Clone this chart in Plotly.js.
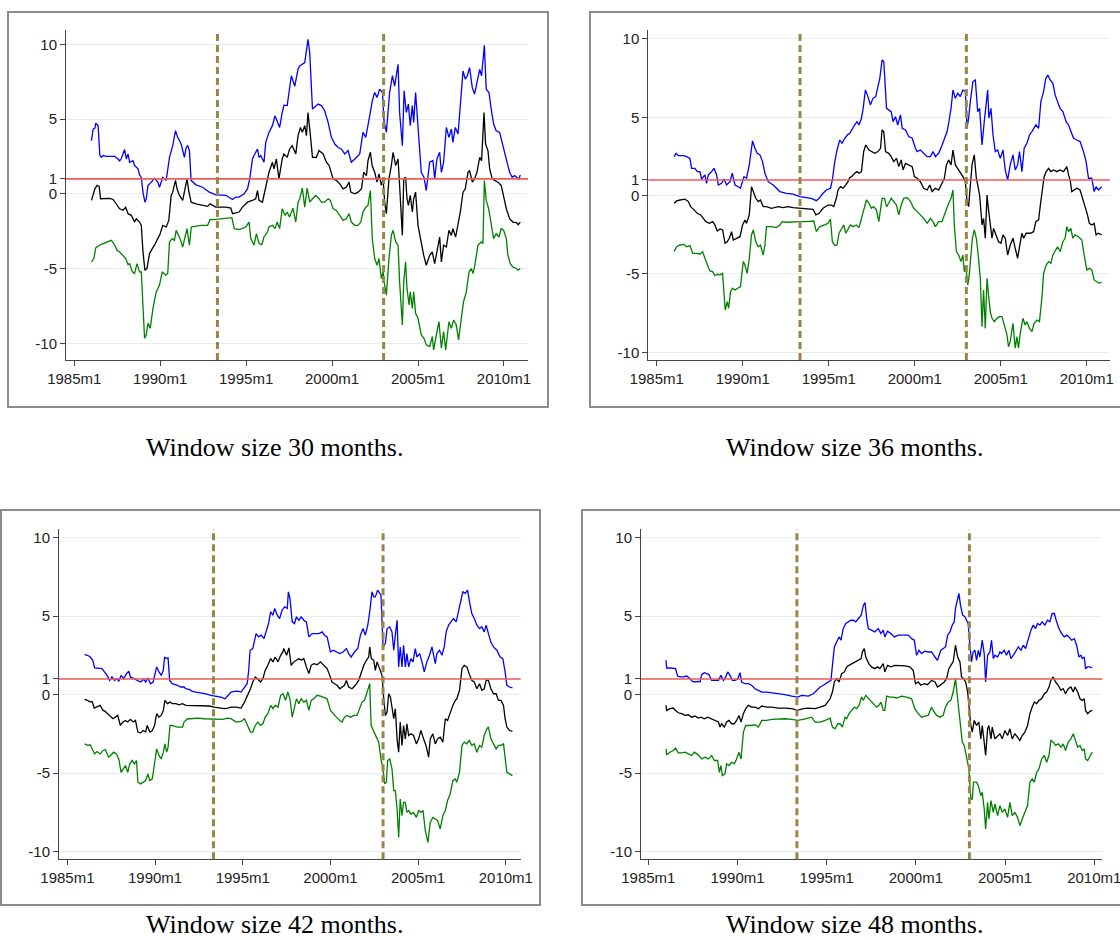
<!DOCTYPE html>
<html>
<head>
<meta charset="utf-8">
<script src="https://cdn.plot.ly/plotly-3.0.1.min.js"></script>
<style>html,body{margin:0;padding:0;background:#fff}#chart{width:1120px;height:940px}</style>
</head>
<body>
<div id="chart"></div>
<script>
// ---- tick labels ----
const xTickVals = [1985, 1990, 1995, 2000, 2005, 2010];
const xTickText = ["1985m1", "1990m1", "1995m1", "2000m1", "2005m1", "2010m1"];
const yTickVals = [-10, -5, 0, 1, 5, 10];
const yTickText = ["-10", "-5", "0", "1", "5", "10"];
const breakDates = [1993.33, 2003.0];
const refLevel = 1;
const captions = ["Window size 30 months.", "Window size 36 months.", "Window size 42 months.", "Window size 48 months."];

// ---- data: [date (decimal year), value] ----
const w30_upper = [[1986.00,3.56],[1986.10,4.33],[1986.20,4.40],[1986.25,4.73],[1986.39,4.55],[1986.49,2.56],[1986.58,2.44],[1986.68,2.56],[1986.87,2.5],[1987.36,2.5],[1987.55,2.33],[1987.64,2.2],[1987.74,2.36],[1987.93,2.96],[1988.03,2.33],[1988.13,2.67],[1988.22,2.11],[1988.42,2.22],[1988.51,1.89],[1988.71,1.67],[1988.80,1.27],[1988.90,1.1],[1989.00,0.1],[1989.11,-0.56],[1989.19,-0.33],[1989.29,0.56],[1989.48,0.78],[1989.67,1.04],[1989.86,0.78],[1989.96,0.44],[1990.15,1.1],[1990.35,0.9],[1990.54,2.44],[1990.73,3.22],[1990.89,4.22],[1991.02,3.78],[1991.22,3.33],[1991.41,2.44],[1991.51,3.1],[1991.60,3.22],[1991.70,2.9],[1991.80,0.9],[1992.08,0.6],[1992.47,0.44],[1992.86,0.11],[1993.24,-0.07],[1993.82,-0.1],[1994.21,-0.38],[1994.40,-0.22],[1994.59,-0.22],[1994.88,0.0],[1995.08,0.33],[1995.21,1.0],[1995.37,2.33],[1995.46,2.56],[1995.66,3.0],[1995.75,2.44],[1995.85,2.56],[1996.04,2.11],[1996.14,3.44],[1996.33,4.11],[1996.53,4.56],[1996.68,5.22],[1996.81,4.78],[1996.95,4.44],[1997.10,5.44],[1997.20,5.93],[1997.39,5.9],[1997.49,6.78],[1997.63,7.9],[1997.83,7.2],[1998.02,8.33],[1998.12,8.56],[1998.41,8.78],[1998.60,10.33],[1998.70,9.44],[1998.86,5.67],[1998.99,5.78],[1999.19,6.0],[1999.38,5.9],[1999.57,5.56],[1999.77,4.78],[1999.96,3.78],[2000.16,3.33],[2000.35,3.1],[2000.54,3.0],[2000.74,2.67],[2000.93,2.89],[2001.12,2.11],[2001.32,2.33],[2001.61,2.67],[2001.80,4.11],[2001.96,3.78],[2002.19,5.22],[2002.34,6.22],[2002.48,6.78],[2002.62,6.44],[2002.77,7.0],[2002.93,6.78],[2003.02,4.9],[2003.16,4.11],[2003.35,6.78],[2003.51,7.9],[2003.64,7.2],[2003.84,8.67],[2003.93,5.44],[2004.09,3.22],[2004.19,6.89],[2004.32,5.44],[2004.44,6.0],[2004.55,4.56],[2004.67,5.9],[2004.75,4.78],[2004.86,6.78],[2005.00,4.33],[2005.19,1.44],[2005.35,1.1],[2005.48,0.22],[2005.68,2.11],[2005.87,2.22],[2005.97,1.0],[2006.10,2.33],[2006.26,2.78],[2006.36,1.44],[2006.49,2.11],[2006.65,4.44],[2006.80,3.78],[2006.94,4.33],[2007.03,3.44],[2007.17,4.44],[2007.33,4.0],[2007.46,5.67],[2007.62,8.22],[2007.75,7.67],[2007.87,7.9],[2008.00,8.44],[2008.16,7.1],[2008.29,6.67],[2008.43,7.44],[2008.59,8.33],[2008.70,7.9],[2008.86,9.93],[2008.97,7.0],[2009.13,6.78],[2009.26,5.67],[2009.40,4.67],[2009.55,4.22],[2009.75,4.11],[2009.94,3.22],[2010.14,2.33],[2010.33,1.44],[2010.48,1.1],[2010.62,1.22],[2010.76,1.1],[2010.87,0.96],[2010.95,1.27]];
const w30_mid = [[1986.00,-0.44],[1986.10,-0.11],[1986.20,0.33],[1986.33,0.56],[1986.45,0.5],[1986.53,-0.33],[1986.78,-0.33],[1987.07,-0.3],[1987.26,-0.38],[1987.45,-0.67],[1987.64,-1.0],[1987.84,-1.1],[1987.99,-0.9],[1988.13,-1.33],[1988.32,-1.44],[1988.51,-1.89],[1988.61,-1.67],[1988.80,-1.89],[1988.90,-2.11],[1989.00,-3.89],[1989.11,-5.11],[1989.23,-5.0],[1989.38,-4.0],[1989.54,-3.67],[1989.67,-3.44],[1989.86,-3.0],[1990.00,-2.67],[1990.15,-2.11],[1990.35,-2.22],[1990.50,-1.78],[1990.64,-0.11],[1990.73,0.11],[1990.89,0.9],[1990.98,0.33],[1991.12,-0.11],[1991.31,-0.44],[1991.45,0.33],[1991.56,1.0],[1991.66,0.22],[1991.80,-0.56],[1992.08,-0.67],[1992.47,-0.78],[1992.76,-0.84],[1992.90,-0.67],[1993.24,-0.89],[1993.82,-0.89],[1994.11,-0.96],[1994.21,-1.33],[1994.59,-1.22],[1994.79,-0.89],[1995.08,-0.56],[1995.37,-0.44],[1995.56,-0.33],[1995.66,0.22],[1995.75,-0.44],[1995.95,-0.56],[1996.10,0.33],[1996.24,1.0],[1996.33,1.44],[1996.53,2.11],[1996.62,1.67],[1996.76,2.33],[1996.91,1.0],[1997.10,2.33],[1997.20,2.67],[1997.39,2.44],[1997.53,3.0],[1997.68,3.22],[1997.89,2.67],[1998.02,3.89],[1998.16,4.44],[1998.27,4.11],[1998.41,4.56],[1998.51,3.89],[1998.60,5.44],[1998.74,3.89],[1998.86,2.44],[1999.09,2.44],[1999.24,2.89],[1999.48,2.67],[1999.67,2.11],[1999.83,1.89],[1999.96,1.44],[2000.06,1.0],[2000.25,0.9],[2000.45,0.67],[2000.64,0.33],[2000.83,0.44],[2000.99,0.78],[2001.09,0.11],[2001.32,0.0],[2001.51,0.11],[2001.71,0.33],[2001.84,1.44],[2002.00,1.22],[2002.09,2.22],[2002.23,2.78],[2002.33,1.89],[2002.48,1.44],[2002.62,0.78],[2002.73,1.33],[2002.87,0.56],[2002.97,1.0],[2003.06,-0.56],[2003.16,-1.33],[2003.31,1.0],[2003.45,1.89],[2003.55,2.78],[2003.70,1.89],[2003.84,2.33],[2003.93,0.56],[2004.09,-2.78],[2004.17,1.0],[2004.28,1.11],[2004.36,-0.33],[2004.44,-0.78],[2004.55,-0.11],[2004.67,-1.22],[2004.75,-0.33],[2004.86,0.11],[2005.00,-2.11],[2005.19,-3.44],[2005.33,-4.11],[2005.48,-4.78],[2005.68,-4.11],[2005.83,-3.89],[2005.97,-4.67],[2006.10,-3.89],[2006.26,-2.89],[2006.36,-4.56],[2006.49,-3.44],[2006.65,-3.56],[2006.80,-2.44],[2006.94,-2.78],[2007.03,-2.33],[2007.19,-2.89],[2007.33,-2.11],[2007.46,-1.22],[2007.62,0.11],[2007.75,0.33],[2007.91,1.44],[2008.00,1.56],[2008.16,0.78],[2008.29,1.0],[2008.43,1.44],[2008.59,2.44],[2008.70,2.22],[2008.84,5.44],[2008.93,3.33],[2009.07,2.89],[2009.17,1.67],[2009.32,1.0],[2009.46,0.9],[2009.65,0.78],[2009.84,0.56],[2009.98,-0.11],[2010.14,-1.0],[2010.33,-1.67],[2010.52,-1.89],[2010.72,-1.93],[2010.83,-2.07],[2010.95,-1.89]];
const w30_lower = [[1986.00,-4.56],[1986.14,-4.33],[1986.25,-3.62],[1986.45,-3.44],[1986.68,-3.33],[1986.97,-3.18],[1987.16,-3.11],[1987.36,-3.44],[1987.49,-3.78],[1987.64,-3.89],[1987.84,-4.11],[1987.99,-4.33],[1988.13,-4.73],[1988.22,-4.67],[1988.38,-5.22],[1988.51,-5.33],[1988.65,-4.67],[1988.80,-5.22],[1988.90,-5.22],[1989.00,-7.67],[1989.09,-9.67],[1989.19,-9.44],[1989.29,-8.67],[1989.42,-9.0],[1989.58,-7.67],[1989.77,-6.56],[1989.96,-6.11],[1990.12,-5.22],[1990.31,-5.44],[1990.44,-5.33],[1990.54,-3.22],[1990.70,-3.0],[1990.83,-3.11],[1990.93,-2.44],[1991.02,-2.67],[1991.16,-3.0],[1991.31,-3.56],[1991.45,-2.78],[1991.56,-2.33],[1991.70,-3.44],[1991.81,-2.22],[1992.08,-2.16],[1992.37,-2.11],[1992.76,-2.11],[1992.90,-1.73],[1993.24,-1.71],[1993.82,-1.67],[1994.17,-1.6],[1994.31,-2.33],[1994.59,-2.4],[1994.98,-2.22],[1995.17,-1.89],[1995.27,-3.0],[1995.46,-3.44],[1995.60,-2.67],[1995.75,-3.33],[1995.91,-3.4],[1996.04,-2.89],[1996.24,-2.56],[1996.33,-2.22],[1996.53,-2.11],[1996.68,-2.33],[1996.81,-1.89],[1996.95,-2.33],[1997.10,-1.0],[1997.26,-1.44],[1997.39,-1.22],[1997.53,-1.56],[1997.72,-0.96],[1997.89,-1.89],[1998.02,-0.56],[1998.12,-0.33],[1998.27,0.38],[1998.41,-0.89],[1998.55,0.38],[1998.70,-0.56],[1998.86,-0.33],[1999.05,-0.11],[1999.24,-0.33],[1999.38,-0.56],[1999.57,-0.56],[1999.77,-0.33],[1999.90,-0.44],[2000.06,-1.0],[2000.25,-1.11],[2000.45,-1.44],[2000.64,-1.78],[2000.83,-1.67],[2000.99,-1.33],[2001.12,-1.89],[2001.32,-2.11],[2001.51,-2.11],[2001.67,-1.89],[2001.80,-1.22],[2001.96,-0.89],[2002.09,-0.78],[2002.23,0.22],[2002.34,-3.0],[2002.48,-4.33],[2002.62,-4.78],[2002.73,-4.33],[2002.87,-5.67],[2002.97,-5.22],[2003.06,-6.11],[2003.16,-6.78],[2003.31,-4.33],[2003.45,-2.78],[2003.55,-2.44],[2003.70,-3.22],[2003.84,-3.44],[2003.93,-5.89],[2004.09,-8.78],[2004.17,-5.89],[2004.28,-4.56],[2004.36,-6.33],[2004.48,-7.44],[2004.55,-6.56],[2004.67,-7.67],[2004.75,-6.56],[2004.86,-8.0],[2005.00,-8.33],[2005.19,-9.44],[2005.35,-9.67],[2005.48,-10.11],[2005.68,-10.22],[2005.83,-9.56],[2005.91,-10.44],[2006.07,-9.44],[2006.22,-8.56],[2006.36,-10.33],[2006.49,-9.22],[2006.61,-10.44],[2006.80,-8.56],[2006.94,-9.0],[2007.07,-8.44],[2007.23,-8.78],[2007.36,-9.78],[2007.52,-8.33],[2007.65,-7.22],[2007.81,-6.56],[2007.97,-5.22],[2008.10,-5.0],[2008.20,-5.33],[2008.29,-4.89],[2008.49,-3.44],[2008.68,-3.22],[2008.78,-3.33],[2008.86,0.89],[2008.97,-0.44],[2009.11,-1.0],[2009.26,-2.11],[2009.40,-3.0],[2009.55,-2.67],[2009.71,-2.89],[2009.84,-2.33],[2009.98,-2.44],[2010.14,-3.0],[2010.23,-4.11],[2010.37,-4.67],[2010.52,-4.89],[2010.72,-5.0],[2010.83,-5.11],[2010.95,-5.0]];

const w36_upper = [[1986.01,2.49],[1986.12,2.7],[1986.26,2.55],[1986.55,2.55],[1986.74,2.49],[1986.93,2.38],[1987.03,1.74],[1987.22,1.74],[1987.36,1.53],[1987.51,1.53],[1987.61,1.06],[1987.80,1.32],[1987.90,0.79],[1988.00,1.32],[1988.19,1.53],[1988.33,1.74],[1988.48,1.32],[1988.58,0.68],[1988.77,0.79],[1988.91,1.06],[1989.06,0.68],[1989.26,0.89],[1989.39,1.43],[1989.55,0.68],[1989.74,0.57],[1989.87,0.47],[1990.07,1.21],[1990.22,1.11],[1990.38,1.96],[1990.51,2.81],[1990.57,3.49],[1990.71,3.02],[1990.84,2.7],[1991.00,2.6],[1991.15,2.17],[1991.29,1.43],[1991.48,0.89],[1991.77,0.68],[1991.96,0.47],[1992.16,0.26],[1992.54,0.15],[1992.93,0.09],[1993.32,-0.06],[1993.70,-0.13],[1993.99,-0.17],[1994.28,-0.32],[1994.44,-0.17],[1994.67,0.15],[1994.86,0.36],[1995.10,0.47],[1995.21,1.0],[1995.35,2.17],[1995.48,2.91],[1995.64,3.55],[1995.77,3.34],[1995.93,3.66],[1996.08,3.87],[1996.22,3.98],[1996.37,4.3],[1996.51,4.51],[1996.64,4.72],[1996.76,4.51],[1996.90,4.94],[1996.99,5.47],[1997.13,6.74],[1997.28,6.32],[1997.42,5.79],[1997.57,6.21],[1997.73,6.32],[1997.97,7.49],[1998.10,8.66],[1998.20,8.55],[1998.36,5.57],[1998.49,5.47],[1998.63,5.36],[1998.74,4.72],[1998.88,5.04],[1999.01,4.51],[1999.17,5.15],[1999.27,4.3],[1999.46,4.19],[1999.65,3.77],[1999.85,3.66],[2000.04,3.02],[2000.14,2.81],[2000.33,2.91],[2000.52,2.7],[2000.72,2.49],[2000.91,2.49],[2001.06,2.81],[2001.20,2.49],[2001.39,2.7],[2001.59,3.23],[2001.72,3.66],[2001.88,4.09],[2001.97,4.62],[2002.11,5.57],[2002.22,6.74],[2002.36,6.21],[2002.50,6.53],[2002.65,6.32],[2002.80,6.74],[2002.94,6.64],[2003.04,4.3],[2003.13,4.94],[2003.23,6.0],[2003.38,7.28],[2003.52,7.38],[2003.66,5.36],[2003.77,5.57],[2003.91,3.23],[2004.04,4.72],[2004.16,5.79],[2004.24,6.74],[2004.31,4.94],[2004.43,5.57],[2004.55,3.87],[2004.68,2.81],[2004.82,2.91],[2004.97,2.38],[2005.13,2.91],[2005.26,1.64],[2005.40,1.0],[2005.55,1.96],[2005.71,2.6],[2005.84,1.64],[2005.98,1.96],[2006.09,2.81],[2006.23,1.53],[2006.36,3.02],[2006.52,3.34],[2006.67,3.87],[2006.81,4.09],[2006.91,4.3],[2007.04,4.51],[2007.20,4.3],[2007.33,6.0],[2007.49,6.64],[2007.62,7.49],[2007.74,7.7],[2007.87,7.38],[2008.03,7.17],[2008.16,6.43],[2008.30,6.0],[2008.45,5.57],[2008.61,5.36],[2008.80,4.72],[2008.94,4.51],[2009.07,4.09],[2009.23,3.66],[2009.42,3.55],[2009.61,3.45],[2009.81,2.81],[2009.96,2.17],[2010.10,1.11],[2010.29,1.11],[2010.43,0.26],[2010.54,0.57],[2010.68,0.36],[2010.87,0.57]];
const w36_mid = [[1986.01,-0.49],[1986.16,-0.34],[1986.35,-0.28],[1986.64,-0.23],[1986.84,-0.38],[1986.97,-0.7],[1987.17,-0.91],[1987.36,-1.13],[1987.55,-1.23],[1987.71,-1.45],[1987.86,-1.66],[1988.06,-1.77],[1988.25,-1.66],[1988.38,-1.87],[1988.52,-2.26],[1988.68,-2.13],[1988.83,-2.19],[1988.97,-3.04],[1989.10,-2.94],[1989.22,-2.72],[1989.35,-2.3],[1989.45,-2.83],[1989.64,-2.72],[1989.84,-2.62],[1989.99,-1.87],[1990.13,-1.55],[1990.22,-1.77],[1990.38,-1.23],[1990.51,0.57],[1990.61,0.26],[1990.76,-0.17],[1990.90,-0.38],[1991.03,-0.28],[1991.19,-0.7],[1991.38,-0.7],[1991.67,-0.81],[1992.06,-0.7],[1992.35,-0.77],[1992.64,-0.7],[1992.93,-0.77],[1993.32,-0.81],[1993.70,-0.81],[1994.09,-0.87],[1994.25,-1.23],[1994.44,-1.13],[1994.67,-0.81],[1994.96,-0.6],[1995.15,-0.6],[1995.29,-0.7],[1995.44,-0.17],[1995.54,0.36],[1995.68,0.57],[1995.83,0.47],[1995.99,0.68],[1996.12,0.89],[1996.22,1.15],[1996.32,1.21],[1996.51,1.43],[1996.64,1.53],[1996.76,1.43],[1996.90,1.53],[1997.03,2.81],[1997.15,3.23],[1997.34,2.91],[1997.48,2.81],[1997.67,2.7],[1997.86,2.81],[1998.01,3.02],[1998.10,4.19],[1998.20,4.09],[1998.30,2.81],[1998.49,2.7],[1998.63,2.49],[1998.78,2.17],[1998.94,2.38],[1999.07,1.85],[1999.21,2.28],[1999.32,1.64],[1999.46,2.06],[1999.65,1.96],[1999.85,1.85],[1999.98,1.21],[2000.14,1.11],[2000.33,0.89],[2000.52,0.47],[2000.72,0.36],[2000.87,0.68],[2001.01,0.26],[2001.20,0.47],[2001.39,0.36],[2001.59,0.79],[2001.72,1.11],[2001.84,1.96],[2001.97,2.28],[2002.11,1.96],[2002.22,2.91],[2002.36,1.96],[2002.50,1.74],[2002.65,1.43],[2002.80,1.21],[2002.94,0.89],[2003.04,-0.38],[2003.13,-0.7],[2003.23,0.68],[2003.33,1.96],[2003.46,2.6],[2003.58,1.11],[2003.66,0.68],[2003.77,0.04],[2003.91,-1.87],[2004.00,-1.45],[2004.10,-2.72],[2004.20,0.04],[2004.29,-0.91],[2004.39,-1.98],[2004.49,-2.72],[2004.58,-2.09],[2004.74,-2.51],[2004.87,-2.94],[2005.01,-3.04],[2005.13,-2.51],[2005.26,-2.72],[2005.40,-3.79],[2005.55,-3.15],[2005.71,-2.72],[2005.84,-3.36],[2005.98,-4.0],[2006.09,-3.26],[2006.23,-2.4],[2006.33,-2.72],[2006.48,-2.4],[2006.71,-2.4],[2006.91,-2.3],[2007.04,-1.66],[2007.20,-1.55],[2007.29,-0.7],[2007.39,0.15],[2007.52,1.21],[2007.64,1.53],[2007.78,1.74],[2007.91,1.53],[2008.07,1.64],[2008.26,1.53],[2008.45,1.64],[2008.65,1.53],[2008.84,1.85],[2008.94,1.32],[2009.03,1.0],[2009.13,0.26],[2009.26,0.36],[2009.42,0.47],[2009.61,0.36],[2009.77,-0.17],[2009.90,-0.7],[2010.04,-1.23],[2010.15,-1.77],[2010.29,-1.87],[2010.43,-1.77],[2010.54,-2.51],[2010.68,-2.4],[2010.87,-2.51]];
const w36_lower = [[1986.01,-3.57],[1986.16,-3.26],[1986.35,-3.15],[1986.59,-3.11],[1986.74,-3.26],[1986.93,-3.19],[1987.09,-3.68],[1987.32,-3.68],[1987.51,-3.74],[1987.67,-3.57],[1987.80,-4.0],[1987.94,-4.43],[1988.09,-4.81],[1988.25,-4.85],[1988.38,-5.11],[1988.52,-5.02],[1988.68,-5.06],[1988.83,-4.96],[1988.91,-6.13],[1988.98,-7.3],[1989.10,-6.77],[1989.18,-7.19],[1989.29,-6.13],[1989.41,-5.91],[1989.55,-6.02],[1989.74,-5.91],[1989.87,-5.81],[1990.03,-4.21],[1990.13,-4.43],[1990.26,-4.96],[1990.38,-4.0],[1990.51,-2.51],[1990.61,-2.19],[1990.76,-2.94],[1990.90,-3.26],[1991.03,-3.15],[1991.19,-3.79],[1991.29,-3.15],[1991.38,-1.98],[1991.67,-1.98],[1991.96,-2.04],[1992.16,-1.87],[1992.29,-1.66],[1992.54,-1.7],[1992.93,-1.66],[1993.32,-1.66],[1993.70,-1.66],[1994.13,-1.62],[1994.28,-2.3],[1994.48,-1.98],[1994.77,-1.87],[1994.96,-1.77],[1995.10,-1.49],[1995.21,-2.94],[1995.35,-3.19],[1995.48,-3.15],[1995.60,-2.4],[1995.74,-2.09],[1995.87,-1.87],[1995.99,-2.4],[1996.12,-2.09],[1996.26,-1.87],[1996.41,-1.98],[1996.61,-1.87],[1996.76,-2.04],[1996.90,-1.45],[1997.03,-0.91],[1997.19,-0.28],[1997.34,-0.49],[1997.48,-0.81],[1997.61,-0.7],[1997.77,-0.91],[1997.91,-1.66],[1998.01,-0.7],[1998.10,-0.17],[1998.24,-0.17],[1998.36,-0.7],[1998.49,-0.49],[1998.63,-0.17],[1998.78,-0.38],[1998.94,-0.6],[1999.07,-1.23],[1999.21,-0.6],[1999.36,-0.17],[1999.56,-0.13],[1999.75,-0.38],[1999.94,-0.81],[2000.14,-1.02],[2000.33,-1.23],[2000.52,-1.45],[2000.72,-1.77],[2000.91,-1.45],[2001.06,-1.66],[2001.20,-1.98],[2001.39,-1.66],[2001.59,-1.66],[2001.72,-1.23],[2001.88,-0.7],[2001.97,-0.49],[2002.11,-0.17],[2002.22,0.36],[2002.30,-1.87],[2002.42,-3.57],[2002.55,-3.79],[2002.69,-4.21],[2002.80,-3.79],[2002.88,-4.85],[2002.96,-4.43],[2003.08,-5.7],[2003.15,-5.28],[2003.23,-4.0],[2003.35,-2.72],[2003.46,-2.19],[2003.58,-2.72],[2003.69,-3.79],[2003.81,-5.28],[2003.91,-8.36],[2004.00,-6.02],[2004.10,-8.47],[2004.20,-5.28],[2004.29,-6.34],[2004.39,-7.4],[2004.49,-7.83],[2004.62,-8.04],[2004.78,-7.83],[2004.93,-7.72],[2005.07,-7.72],[2005.20,-8.26],[2005.36,-8.89],[2005.45,-9.64],[2005.55,-9.32],[2005.71,-8.15],[2005.84,-9.74],[2005.94,-9.0],[2006.03,-9.74],[2006.13,-8.79],[2006.29,-7.83],[2006.42,-8.26],[2006.52,-8.04],[2006.67,-8.47],[2006.81,-8.68],[2006.94,-8.15],[2007.10,-7.94],[2007.25,-8.04],[2007.39,-6.55],[2007.49,-4.96],[2007.64,-4.43],[2007.78,-4.21],[2007.91,-4.32],[2008.03,-3.79],[2008.16,-3.57],[2008.30,-3.26],[2008.45,-3.57],[2008.61,-2.94],[2008.74,-2.72],[2008.84,-1.98],[2008.94,-2.3],[2009.07,-2.09],[2009.19,-2.72],[2009.32,-2.51],[2009.52,-2.62],[2009.71,-2.83],[2009.85,-3.79],[2010.00,-4.74],[2010.15,-4.64],[2010.29,-4.74],[2010.43,-5.38],[2010.58,-5.49],[2010.73,-5.6],[2010.87,-5.53]];

const w42_upper = [[1985.98,2.55],[1986.15,2.51],[1986.30,2.4],[1986.45,2.19],[1986.55,1.7],[1986.78,1.7],[1986.97,1.66],[1987.10,1.47],[1987.26,1.23],[1987.41,0.91],[1987.54,1.13],[1987.68,0.91],[1987.83,1.02],[1987.93,0.85],[1988.06,1.23],[1988.21,1.02],[1988.37,1.34],[1988.50,1.49],[1988.59,1.13],[1988.79,1.02],[1988.98,0.91],[1989.17,0.81],[1989.36,0.98],[1989.46,0.81],[1989.59,1.06],[1989.74,0.7],[1989.89,0.81],[1989.97,1.13],[1990.09,1.77],[1990.22,1.45],[1990.35,1.23],[1990.47,1.55],[1990.54,2.4],[1990.64,2.3],[1990.74,2.34],[1990.83,0.91],[1990.98,0.7],[1991.27,0.6],[1991.46,0.49],[1991.65,0.49],[1991.75,0.38],[1991.94,0.34],[1992.13,0.21],[1992.32,0.17],[1992.61,0.13],[1992.90,0.06],[1993.18,-0.04],[1993.47,-0.09],[1993.76,-0.15],[1993.99,-0.26],[1994.14,-0.04],[1994.33,0.17],[1994.52,0.21],[1994.71,0.23],[1994.90,0.17],[1995.10,0.49],[1995.25,0.7],[1995.33,1.45],[1995.42,2.83],[1995.57,2.94],[1995.67,3.47],[1995.76,3.89],[1995.90,3.68],[1996.05,3.79],[1996.21,3.57],[1996.34,4.0],[1996.47,4.53],[1996.59,5.28],[1996.72,5.06],[1996.82,5.49],[1996.97,5.06],[1997.10,4.85],[1997.24,5.38],[1997.39,5.6],[1997.54,5.49],[1997.60,6.55],[1997.69,6.13],[1997.82,4.64],[1997.95,4.53],[1998.06,4.96],[1998.20,4.74],[1998.33,4.96],[1998.48,4.74],[1998.63,4.64],[1998.77,3.68],[1998.96,3.89],[1999.15,3.89],[1999.34,3.89],[1999.53,4.0],[1999.66,3.79],[1999.81,3.68],[2000.00,2.72],[2000.15,2.83],[2000.34,2.72],[2000.53,2.62],[2000.72,2.72],[2000.91,2.94],[2001.04,2.62],[2001.18,2.4],[2001.37,2.72],[2001.56,2.94],[2001.71,3.79],[2001.86,4.21],[2001.99,3.79],[2002.13,4.43],[2002.24,5.28],[2002.37,6.55],[2002.47,6.23],[2002.56,6.23],[2002.69,6.66],[2002.81,6.45],[2002.88,6.34],[2003.00,3.04],[2003.13,3.26],[2003.23,4.21],[2003.38,4.32],[2003.51,4.0],[2003.61,2.83],[2003.70,3.79],[2003.80,4.74],[2003.89,1.77],[2003.98,3.04],[2004.08,1.77],[2004.17,3.15],[2004.27,1.77],[2004.36,2.62],[2004.46,1.77],[2004.59,2.3],[2004.71,2.09],[2004.84,2.94],[2004.93,2.4],[2005.09,2.62],[2005.22,2.09],[2005.35,1.45],[2005.50,2.09],[2005.65,2.51],[2005.79,3.04],[2005.88,2.4],[2005.98,1.98],[2006.07,2.62],[2006.22,2.83],[2006.36,2.51],[2006.49,3.04],[2006.60,4.0],[2006.74,4.43],[2006.87,4.64],[2007.02,4.85],[2007.17,4.64],[2007.31,5.28],[2007.40,5.81],[2007.55,6.55],[2007.69,6.45],[2007.82,6.66],[2007.93,5.91],[2008.06,5.17],[2008.20,4.85],[2008.35,4.43],[2008.50,4.21],[2008.63,4.32],[2008.77,4.0],[2008.88,4.43],[2009.01,3.89],[2009.15,3.36],[2009.30,3.04],[2009.49,2.83],[2009.68,2.4],[2009.83,2.3],[2009.96,1.45],[2010.06,0.6],[2010.21,0.49],[2010.38,0.43]];
const w42_mid = [[1985.98,-0.3],[1986.15,-0.36],[1986.30,-0.47],[1986.41,-0.43],[1986.53,-0.85],[1986.68,-0.79],[1986.87,-0.68],[1987.03,-1.0],[1987.16,-1.06],[1987.29,-1.21],[1987.45,-1.36],[1987.60,-1.53],[1987.73,-1.43],[1987.87,-1.32],[1988.02,-1.96],[1988.17,-1.74],[1988.31,-1.64],[1988.44,-1.74],[1988.59,-1.57],[1988.75,-1.74],[1988.88,-1.64],[1989.02,-2.38],[1989.17,-2.43],[1989.32,-2.28],[1989.46,-2.38],[1989.55,-1.96],[1989.70,-2.38],[1989.84,-2.28],[1989.97,-1.96],[1990.09,-1.21],[1990.22,-1.43],[1990.35,-1.32],[1990.47,-1.0],[1990.56,-0.36],[1990.70,-0.57],[1990.85,-0.47],[1990.98,-0.57],[1991.18,-0.57],[1991.37,-0.64],[1991.56,-0.57],[1991.75,-0.68],[1991.94,-0.68],[1992.23,-0.72],[1992.51,-0.68],[1992.80,-0.68],[1993.09,-0.72],[1993.37,-0.79],[1993.66,-0.85],[1993.95,-0.89],[1994.14,-0.85],[1994.33,-0.79],[1994.62,-0.79],[1994.90,-0.85],[1995.10,-0.47],[1995.29,-0.04],[1995.44,0.38],[1995.57,0.81],[1995.71,1.13],[1995.86,0.98],[1996.01,0.81],[1996.15,1.02],[1996.28,1.55],[1996.43,1.87],[1996.59,2.3],[1996.72,2.09],[1996.85,2.4],[1997.01,2.09],[1997.16,2.51],[1997.29,2.72],[1997.34,2.94],[1997.50,2.51],[1997.63,2.98],[1997.76,1.87],[1997.91,2.09],[1998.06,2.19],[1998.20,2.3],[1998.33,2.19],[1998.48,2.3],[1998.63,1.77],[1998.77,1.34],[1998.90,1.87],[1999.05,1.98],[1999.24,1.91],[1999.43,2.09],[1999.62,1.87],[1999.81,1.66],[1999.96,1.23],[2000.09,0.81],[2000.23,0.7],[2000.38,0.6],[2000.53,0.38],[2000.66,0.49],[2000.80,0.6],[2000.91,0.91],[2001.04,0.49],[2001.23,0.38],[2001.42,0.6],[2001.61,0.91],[2001.75,1.45],[2001.90,1.87],[2002.05,2.19],[2002.18,2.4],[2002.24,3.04],[2002.33,2.3],[2002.47,2.19],[2002.56,1.55],[2002.66,2.09],[2002.81,1.66],[2002.94,1.23],[2003.04,-0.26],[2003.13,-1.32],[2003.23,-1.11],[2003.32,0.06],[2003.42,-0.15],[2003.51,-0.79],[2003.61,-1.53],[2003.70,-0.89],[2003.80,-2.81],[2003.89,-3.66],[2003.98,-1.74],[2004.08,-3.23],[2004.17,-1.96],[2004.27,-2.81],[2004.36,-1.85],[2004.46,-2.6],[2004.59,-2.49],[2004.74,-2.6],[2004.90,-3.13],[2005.03,-2.81],[2005.16,-2.28],[2005.31,-2.81],[2005.45,-3.23],[2005.60,-3.98],[2005.69,-2.81],[2005.84,-2.49],[2005.98,-3.13],[2006.11,-2.81],[2006.26,-2.7],[2006.41,-3.02],[2006.55,-1.53],[2006.68,-1.64],[2006.83,-1.11],[2006.98,-0.68],[2007.12,-0.36],[2007.21,-0.26],[2007.36,0.28],[2007.50,1.66],[2007.63,1.87],[2007.78,1.77],[2007.91,1.34],[2008.06,0.91],[2008.20,0.81],[2008.35,0.38],[2008.50,0.7],[2008.63,0.28],[2008.77,0.38],[2008.88,0.91],[2009.01,0.91],[2009.15,0.38],[2009.30,0.06],[2009.45,0.06],[2009.58,-0.36],[2009.72,-0.36],[2009.87,-0.68],[2009.96,-1.53],[2010.06,-2.06],[2010.21,-2.28],[2010.38,-2.34]];
const w42_lower = [[1985.98,-3.13],[1986.15,-3.23],[1986.30,-3.19],[1986.40,-3.45],[1986.55,-3.77],[1986.68,-3.62],[1986.87,-3.77],[1987.03,-3.55],[1987.16,-3.49],[1987.35,-3.98],[1987.49,-3.83],[1987.64,-3.66],[1987.79,-3.77],[1987.93,-4.09],[1988.06,-4.94],[1988.17,-4.72],[1988.31,-4.51],[1988.44,-4.94],[1988.56,-4.4],[1988.69,-4.19],[1988.82,-4.4],[1988.94,-4.19],[1989.02,-5.57],[1989.17,-5.68],[1989.32,-5.57],[1989.46,-5.47],[1989.59,-5.04],[1989.70,-5.47],[1989.84,-5.36],[1989.97,-4.51],[1990.09,-3.45],[1990.22,-3.87],[1990.35,-4.09],[1990.47,-3.66],[1990.56,-3.13],[1990.66,-3.66],[1990.74,-3.34],[1990.85,-1.96],[1990.98,-1.96],[1991.27,-2.06],[1991.56,-2.06],[1991.65,-1.74],[1991.75,-1.64],[1991.85,-1.53],[1992.04,-1.53],[1992.42,-1.49],[1992.80,-1.53],[1993.18,-1.53],[1993.57,-1.53],[1993.85,-1.57],[1994.14,-1.49],[1994.33,-1.53],[1994.62,-1.74],[1994.90,-1.7],[1995.10,-1.53],[1995.29,-2.06],[1995.44,-2.38],[1995.57,-2.38],[1995.71,-1.96],[1995.86,-1.74],[1996.01,-1.96],[1996.15,-1.85],[1996.28,-1.43],[1996.43,-1.21],[1996.59,-0.68],[1996.72,-0.89],[1996.85,-0.68],[1997.01,-0.79],[1997.16,-0.04],[1997.29,0.06],[1997.44,-0.36],[1997.57,0.17],[1997.69,-0.26],[1997.82,-1.43],[1997.95,-0.79],[1998.06,-0.26],[1998.20,-0.57],[1998.33,-0.26],[1998.48,-0.47],[1998.63,-0.36],[1998.77,-1.0],[1998.90,-0.36],[1999.05,-0.26],[1999.24,-0.04],[1999.43,-0.09],[1999.62,-0.15],[1999.81,-0.26],[2000.00,-1.0],[2000.15,-1.21],[2000.34,-1.43],[2000.53,-1.64],[2000.66,-1.74],[2000.80,-1.43],[2000.95,-1.32],[2001.14,-1.43],[2001.33,-1.32],[2001.52,-1.32],[2001.67,-0.89],[2001.80,-0.47],[2001.94,-0.36],[2002.09,0.17],[2002.24,0.7],[2002.32,-1.96],[2002.47,-2.38],[2002.62,-2.7],[2002.75,-3.02],[2002.88,-4.09],[2003.00,-4.72],[2003.09,-5.68],[2003.19,-5.57],[2003.26,-4.19],[2003.38,-4.09],[2003.51,-4.72],[2003.61,-6.11],[2003.70,-6.11],[2003.80,-7.28],[2003.89,-9.09],[2003.98,-6.64],[2004.08,-7.7],[2004.17,-6.85],[2004.27,-6.85],[2004.36,-7.49],[2004.46,-7.38],[2004.59,-7.6],[2004.74,-7.49],[2004.90,-7.81],[2005.03,-7.38],[2005.16,-7.49],[2005.28,-7.38],[2005.41,-8.66],[2005.56,-9.4],[2005.69,-8.13],[2005.84,-7.81],[2005.98,-7.91],[2006.11,-8.02],[2006.26,-8.55],[2006.41,-7.7],[2006.55,-7.38],[2006.68,-6.74],[2006.83,-6.32],[2006.98,-5.47],[2007.12,-5.36],[2007.21,-5.57],[2007.36,-4.94],[2007.50,-3.23],[2007.63,-3.02],[2007.78,-3.13],[2007.91,-2.91],[2008.06,-3.23],[2008.20,-3.13],[2008.35,-3.66],[2008.50,-3.23],[2008.63,-3.34],[2008.77,-2.6],[2008.92,-2.17],[2009.01,-2.06],[2009.15,-2.81],[2009.30,-3.13],[2009.45,-3.45],[2009.58,-3.23],[2009.72,-3.23],[2009.87,-3.13],[2009.96,-4.09],[2010.06,-4.94],[2010.21,-5.04],[2010.38,-5.15]];

const w48_upper = [[1985.99,2.19],[1986.03,1.7],[1986.21,1.7],[1986.40,1.66],[1986.53,1.66],[1986.64,1.19],[1986.78,1.13],[1986.96,1.13],[1987.15,1.19],[1987.34,1.02],[1987.47,0.85],[1987.62,0.81],[1987.77,0.85],[1987.90,0.81],[1987.99,1.28],[1988.14,1.4],[1988.27,1.34],[1988.40,1.28],[1988.55,0.91],[1988.74,0.91],[1988.93,0.91],[1989.07,1.23],[1989.21,0.91],[1989.34,1.13],[1989.45,1.45],[1989.58,1.23],[1989.71,0.91],[1989.86,0.91],[1990.01,0.98],[1990.14,1.4],[1990.23,0.81],[1990.42,0.7],[1990.61,0.7],[1990.79,0.6],[1990.98,0.38],[1991.17,0.28],[1991.36,0.17],[1991.64,0.17],[1991.92,0.13],[1992.29,0.06],[1992.66,0.0],[1993.04,-0.09],[1993.37,-0.15],[1993.60,-0.04],[1993.97,-0.09],[1994.25,0.06],[1994.44,0.28],[1994.63,0.49],[1994.81,0.6],[1995.09,0.81],[1995.24,0.91],[1995.32,1.87],[1995.43,3.04],[1995.56,3.36],[1995.69,3.68],[1995.80,3.47],[1995.93,4.21],[1996.07,4.53],[1996.21,4.64],[1996.36,4.74],[1996.50,4.74],[1996.63,4.64],[1996.78,4.85],[1996.93,5.06],[1997.06,5.7],[1997.15,5.87],[1997.23,4.96],[1997.33,4.21],[1997.51,4.11],[1997.70,4.0],[1997.89,4.21],[1998.04,3.89],[1998.17,4.11],[1998.26,3.68],[1998.41,4.04],[1998.60,3.89],[1998.79,3.68],[1999.01,3.79],[1999.29,3.79],[1999.57,3.79],[1999.76,3.57],[1999.91,3.47],[2000.04,2.51],[2000.17,2.83],[2000.32,2.62],[2000.50,2.77],[2000.69,2.72],[2000.88,2.72],[2001.07,2.4],[2001.21,2.19],[2001.40,2.83],[2001.53,2.94],[2001.66,3.04],[2001.78,3.79],[2001.91,4.0],[2002.04,4.43],[2002.15,4.64],[2002.22,5.49],[2002.34,6.02],[2002.41,6.45],[2002.50,5.7],[2002.62,5.06],[2002.75,4.96],[2002.84,4.74],[2002.93,4.53],[2003.03,3.15],[2003.12,2.09],[2003.21,2.72],[2003.31,2.83],[2003.40,2.19],[2003.50,2.83],[2003.59,2.4],[2003.72,3.47],[2003.83,2.62],[2003.91,0.81],[2004.02,2.51],[2004.15,2.72],[2004.24,3.47],[2004.34,2.3],[2004.43,2.51],[2004.58,2.4],[2004.71,2.72],[2004.80,2.62],[2004.95,2.83],[2005.08,2.51],[2005.21,2.83],[2005.33,2.3],[2005.46,2.51],[2005.59,2.72],[2005.74,3.04],[2005.89,2.83],[2006.02,3.15],[2006.15,2.94],[2006.30,3.57],[2006.45,4.11],[2006.58,4.43],[2006.71,4.21],[2006.82,4.53],[2006.95,4.43],[2007.08,4.64],[2007.23,4.43],[2007.38,4.74],[2007.51,4.64],[2007.64,5.17],[2007.76,5.17],[2007.89,4.64],[2008.02,4.21],[2008.17,3.89],[2008.32,3.68],[2008.45,3.79],[2008.58,3.68],[2008.73,3.47],[2008.88,3.57],[2009.01,3.15],[2009.14,2.4],[2009.25,2.51],[2009.33,2.3],[2009.44,2.4],[2009.51,1.66],[2009.63,1.77],[2009.76,1.77],[2009.89,1.7]];
const w48_mid = [[1985.99,-0.68],[1986.03,-1.0],[1986.21,-0.89],[1986.40,-0.85],[1986.53,-1.0],[1986.68,-1.15],[1986.87,-1.21],[1987.06,-1.32],[1987.24,-1.28],[1987.43,-1.43],[1987.62,-1.36],[1987.80,-1.49],[1987.95,-1.43],[1988.14,-1.53],[1988.33,-1.43],[1988.51,-1.53],[1988.70,-1.64],[1988.93,-1.74],[1989.02,-2.06],[1989.11,-1.85],[1989.26,-2.06],[1989.39,-1.74],[1989.52,-1.64],[1989.67,-1.85],[1989.82,-1.85],[1989.95,-1.64],[1990.08,-1.32],[1990.20,-1.74],[1990.33,-1.21],[1990.46,-0.89],[1990.61,-0.68],[1990.79,-0.79],[1990.98,-0.79],[1991.17,-0.89],[1991.36,-0.72],[1991.64,-0.79],[1991.92,-0.79],[1992.29,-0.85],[1992.66,-0.85],[1993.04,-0.89],[1993.37,-1.0],[1993.69,-0.89],[1993.97,-0.85],[1994.35,-0.89],[1994.63,-0.79],[1994.91,-0.68],[1995.19,-0.26],[1995.32,0.17],[1995.43,0.81],[1995.56,1.02],[1995.69,0.81],[1995.84,1.34],[1995.99,1.45],[1996.12,1.77],[1996.25,1.87],[1996.44,1.98],[1996.63,2.09],[1996.78,2.19],[1996.93,2.3],[1997.00,2.72],[1997.11,2.94],[1997.19,2.4],[1997.36,1.98],[1997.51,1.77],[1997.70,1.66],[1997.85,1.77],[1997.98,1.66],[1998.17,1.98],[1998.26,1.45],[1998.41,1.87],[1998.60,1.77],[1998.82,1.87],[1999.10,1.87],[1999.38,1.83],[1999.66,1.77],[1999.85,1.55],[1999.98,0.7],[2000.13,0.81],[2000.28,0.6],[2000.47,0.7],[2000.65,0.64],[2000.88,0.91],[2001.07,0.81],[2001.21,0.49],[2001.40,0.64],[2001.59,0.81],[2001.72,1.02],[2001.85,1.66],[2001.96,1.87],[2002.09,2.09],[2002.22,3.15],[2002.34,2.4],[2002.47,2.09],[2002.56,1.13],[2002.67,1.02],[2002.79,0.81],[2002.90,0.17],[2002.97,-0.79],[2003.08,-1.96],[2003.16,-2.38],[2003.27,-1.64],[2003.40,-1.96],[2003.53,-1.74],[2003.64,-2.81],[2003.72,-1.96],[2003.83,-3.02],[2003.91,-3.87],[2004.02,-2.17],[2004.09,-1.96],[2004.21,-2.81],[2004.28,-2.06],[2004.43,-2.81],[2004.58,-2.6],[2004.71,-2.49],[2004.84,-2.81],[2004.99,-2.28],[2005.14,-2.6],[2005.27,-2.17],[2005.40,-2.81],[2005.55,-2.49],[2005.70,-2.7],[2005.83,-2.91],[2005.96,-2.6],[2006.11,-2.38],[2006.26,-1.96],[2006.39,-1.21],[2006.52,-0.79],[2006.64,-0.47],[2006.77,-0.57],[2006.90,-0.36],[2007.05,-0.26],[2007.20,0.06],[2007.33,0.17],[2007.46,0.49],[2007.57,0.91],[2007.70,1.13],[2007.83,0.81],[2007.98,0.6],[2008.13,0.28],[2008.26,0.38],[2008.39,0.06],[2008.54,0.38],[2008.69,0.49],[2008.82,0.17],[2008.92,0.49],[2009.07,0.17],[2009.20,-0.26],[2009.33,-0.36],[2009.44,-0.26],[2009.51,-1.0],[2009.63,-1.21],[2009.76,-1.06],[2009.89,-1.0]];
const w48_lower = [[1985.99,-3.45],[1986.03,-3.83],[1986.21,-3.66],[1986.40,-3.55],[1986.53,-3.4],[1986.68,-3.7],[1986.87,-3.7],[1987.06,-3.66],[1987.24,-3.77],[1987.43,-3.87],[1987.58,-3.66],[1987.80,-3.83],[1987.99,-4.09],[1988.18,-3.98],[1988.36,-4.09],[1988.55,-3.87],[1988.70,-4.19],[1988.89,-4.19],[1988.98,-4.94],[1989.07,-4.51],[1989.15,-5.15],[1989.30,-5.04],[1989.39,-4.4],[1989.52,-4.51],[1989.67,-4.3],[1989.82,-4.4],[1989.95,-4.09],[1990.08,-3.66],[1990.20,-4.09],[1990.33,-2.38],[1990.46,-1.96],[1990.61,-1.96],[1990.79,-1.96],[1990.98,-1.91],[1991.17,-2.06],[1991.36,-1.64],[1991.64,-1.64],[1991.92,-1.57],[1992.29,-1.53],[1992.66,-1.53],[1993.04,-1.57],[1993.37,-1.64],[1993.69,-1.57],[1994.16,-1.43],[1994.35,-1.74],[1994.63,-1.74],[1994.91,-1.64],[1995.19,-1.49],[1995.32,-2.06],[1995.47,-2.17],[1995.62,-1.85],[1995.75,-1.85],[1995.88,-2.06],[1996.03,-1.43],[1996.12,-1.53],[1996.25,-1.21],[1996.40,-1.0],[1996.55,-0.79],[1996.68,-0.89],[1996.81,-0.68],[1996.96,-0.15],[1997.06,-0.36],[1997.19,-0.04],[1997.36,-0.26],[1997.51,-0.47],[1997.66,-0.68],[1997.79,-0.79],[1997.93,-0.68],[1998.04,-0.47],[1998.17,-1.0],[1998.26,-1.0],[1998.36,-0.09],[1998.54,-0.15],[1998.73,-0.15],[1998.92,-0.21],[1999.20,-0.09],[1999.48,-0.15],[1999.76,-0.26],[1999.94,-0.89],[2000.13,-1.21],[2000.32,-1.43],[2000.50,-1.36],[2000.69,-1.32],[2000.88,-0.79],[2000.97,-1.0],[2001.16,-1.32],[2001.35,-1.43],[2001.53,-1.32],[2001.66,-0.79],[2001.81,-0.47],[2001.96,-0.36],[2002.09,0.17],[2002.22,1.02],[2002.34,-0.26],[2002.47,-1.74],[2002.60,-3.02],[2002.71,-3.23],[2002.84,-3.87],[2002.97,-4.72],[2003.08,-6.64],[2003.16,-6.64],[2003.23,-5.57],[2003.40,-5.57],[2003.50,-5.79],[2003.64,-6.43],[2003.72,-6.21],[2003.83,-7.28],[2003.91,-8.55],[2004.02,-6.85],[2004.09,-7.91],[2004.21,-6.74],[2004.34,-7.49],[2004.43,-6.96],[2004.58,-7.7],[2004.71,-7.06],[2004.84,-7.49],[2004.99,-7.28],[2005.14,-7.81],[2005.27,-6.85],[2005.40,-7.7],[2005.55,-7.49],[2005.70,-7.81],[2005.83,-8.34],[2005.96,-7.91],[2006.11,-7.49],[2006.26,-7.06],[2006.39,-5.57],[2006.52,-5.36],[2006.64,-5.57],[2006.77,-4.94],[2006.90,-4.72],[2007.05,-4.09],[2007.20,-3.87],[2007.33,-4.3],[2007.46,-3.87],[2007.57,-2.91],[2007.70,-3.02],[2007.83,-3.23],[2007.98,-3.13],[2008.13,-3.34],[2008.26,-3.13],[2008.39,-3.55],[2008.54,-3.02],[2008.69,-2.81],[2008.82,-2.49],[2008.95,-2.91],[2009.07,-3.34],[2009.20,-3.23],[2009.33,-3.55],[2009.44,-3.45],[2009.51,-4.09],[2009.63,-4.19],[2009.76,-3.87],[2009.89,-3.66]];

// ---- layout helpers (pixel geometry of the 1120x940 canvas) ----
const W = 1120, H = 940;
const px = v => v / W, py = v => 1 - v / H;

const panels = [
  {series: [w30_upper, w30_mid, w30_lower], plot: [66, 528, 30, 360], xr: [1984.52, 2011.4], yr: [-11.12, 10.96], frame: [8, 548, 12, 407], cap: [275, 447]},
  {series: [w36_upper, w36_mid, w36_lower], plot: [648.3, 1110, 30, 360], xr: [1984.51, 2011.35], yr: [-10.49, 10.57], frame: [590, 1135, 12, 407], cap: [855, 447]},
  {series: [w42_upper, w42_mid, w42_lower], plot: [59, 520.7, 529, 859.3], xr: [1984.52, 2010.85], yr: [-10.48, 10.55], frame: [1, 540, 510, 905], cap: [275, 924]},
  {series: [w48_upper, w48_mid, w48_lower], plot: [641, 1102.3, 529, 859.3], xr: [1984.59, 2010.45], yr: [-10.48, 10.55], frame: [582, 1135, 510, 905], cap: [855, 924]}
];
const colors = ["#0000ff", "#000000", "#008000"];

const traces = [], shapes = [], annotations = [];
const layout = {
  width: W, height: H, margin: {l: 0, r: 0, t: 0, b: 0},
  paper_bgcolor: "#ffffff", plot_bgcolor: "rgba(0,0,0,0)", showlegend: false,
  font: {family: "Liberation Sans, Arial, sans-serif", size: 15, color: "#222"}
};

panels.forEach((p, i) => {
  const n = i === 0 ? "" : String(i + 1);
  const xa = "x" + n, ya = "y" + n;
  shapes.push({type: "rect", xref: "paper", yref: "paper", layer: "below",
    x0: px(p.frame[0]), x1: px(p.frame[1]), y0: py(p.frame[3]), y1: py(p.frame[2]),
    line: {color: "#8c8c8c", width: 2}, fillcolor: "#ffffff"});
  layout["xaxis" + n] = {
    domain: [px(p.plot[0]), px(p.plot[1])], range: p.xr, anchor: ya,
    tickmode: "array", tickvals: xTickVals, ticktext: xTickText,
    ticks: "outside", ticklen: 5, tickcolor: "#444", tickwidth: 1,
    showline: true, linecolor: "#444", linewidth: 1,
    showgrid: false, zeroline: false, fixedrange: true,
    ticklabeloverflow: "allow",
    tickfont: {size: 15, color: "#222"}
  };
  layout["yaxis" + n] = {
    domain: [py(p.plot[3]), py(p.plot[2])], range: p.yr, anchor: xa,
    tickmode: "array", tickvals: yTickVals, ticktext: yTickText,
    ticks: "outside", ticklen: 5, tickcolor: "#444", tickwidth: 1,
    showline: true, linecolor: "#444", linewidth: 1,
    showgrid: true, gridcolor: "#e4eef0", gridwidth: 1, zeroline: false, fixedrange: true,
    ticklabeloverflow: "allow",
    tickfont: {size: 15, color: "#222"}
  };
  p.series.forEach((s, k) => {
    traces.push({type: "scatter", mode: "lines", xaxis: xa, yaxis: ya,
      x: s.map(d => d[0]), y: s.map(d => d[1]),
      line: {color: colors[k], width: 1.3}, hoverinfo: "skip"});
  });
  shapes.push({type: "line", xref: xa + " domain", yref: ya, x0: 0, x1: 1, y0: refLevel, y1: refLevel,
    line: {color: "#f05a5a", width: 1.6}});
  breakDates.forEach(b => shapes.push({type: "line", xref: xa, yref: ya + " domain", x0: b, x1: b, y0: 0, y1: 1,
    line: {color: "#9a8548", width: 3, dash: "7px,4px"}}));
  annotations.push({xref: "paper", yref: "paper", x: px(p.cap[0]), y: py(p.cap[1]),
    xanchor: "center", yanchor: "middle", showarrow: false, text: captions[i],
    font: {family: "Liberation Serif, Times New Roman, serif", size: 26, color: "#000"}});
});
layout.shapes = shapes;
layout.annotations = annotations;

Plotly.newPlot("chart", traces, layout, {staticPlot: true, displayModeBar: false});
</script>
</body>
</html>
